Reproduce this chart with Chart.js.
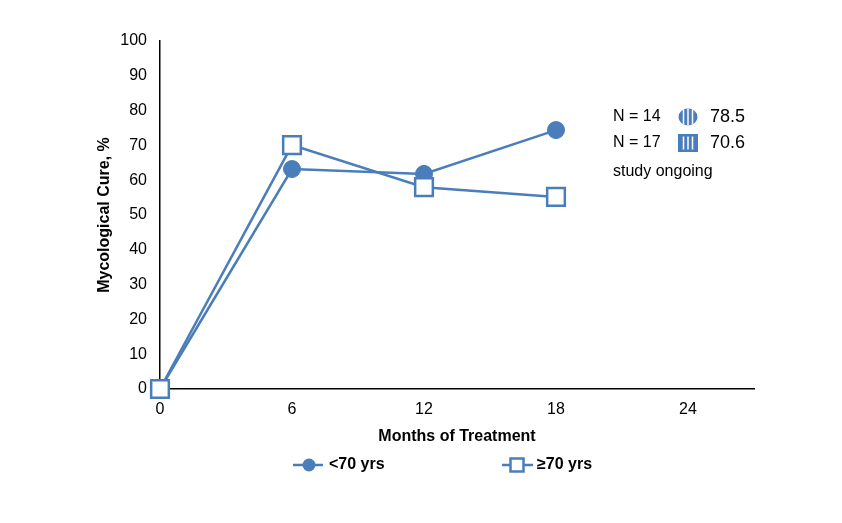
<!DOCTYPE html>
<html>
<head>
<meta charset="utf-8">
<script src="https://cdn.jsdelivr.net/npm/chart.js@4"></script>
<style>
  html, body { margin: 0; padding: 0; background: #fff; }
  #wrap { width: 842px; height: 523px; }
</style>
</head>
<body>
<div id="wrap"><canvas id="cureChart" width="842" height="523"></canvas></div>
<script>
const months = [0, 6, 12, 18];
const under70 = [0, 63.2, 61.8, 74.4];
const over70 = [0, 70.1, 58.0, 55.2];
const xTicks = [0, 6, 12, 18, 24];
const seriesNames = ['<70 yrs', '\u226570 yrs'];
const noteLabels = ['N = 14', 'N = 17'];
const noteValues = ['78.5', '70.6'];
const noteFooter = 'study ongoing';

const blue = '#4a7ebb';
const font = '"Liberation Sans", Arial, sans-serif';

function stripes(ctx, cx, cy, h) {
    ctx.strokeStyle = '#fff';
    ctx.lineWidth = 1.5;
    [-4.5, 0, 4.5].forEach(dx => {
        ctx.beginPath();
        ctx.moveTo(cx + dx, cy - h);
        ctx.lineTo(cx + dx, cy + h);
        ctx.stroke();
    });
}

const extras = {
    id: 'extras',
    afterDraw(chart) {
        const ctx = chart.ctx;
        ctx.save();
        // side notes
        ctx.textBaseline = 'middle';
        ctx.textAlign = 'left';
        const rows = [117, 143];
        rows.forEach((y, i) => {
            ctx.font = '16px ' + font;
            ctx.fillStyle = '#000';
            ctx.fillText(noteLabels[i], 613, y);
            ctx.font = '18px ' + font;
            ctx.fillText(noteValues[i], 710, y);
            ctx.fillStyle = blue;
            if (i === 0) {
                ctx.save();
                ctx.beginPath();
                ctx.ellipse(688, y, 9.5, 8.5, 0, 0, Math.PI * 2);
                ctx.fill();
                ctx.clip();
                stripes(ctx, 688, y, 9);
                ctx.restore();
            } else {
                ctx.fillRect(678, y - 9, 20, 18);
                stripes(ctx, 688, y, 6.5);
            }
        });
        ctx.font = '16px ' + font;
        ctx.fillStyle = '#000';
        ctx.fillText(noteFooter, 613, 172);

        // legend
        const ly = 465;
        ctx.strokeStyle = blue;
        ctx.lineWidth = 2.5;
        ctx.beginPath();
        ctx.moveTo(293, ly); ctx.lineTo(323, ly);
        ctx.moveTo(502, ly); ctx.lineTo(533, ly);
        ctx.stroke();
        ctx.fillStyle = blue;
        ctx.beginPath();
        ctx.arc(309, ly, 6.5, 0, Math.PI * 2);
        ctx.fill();
        ctx.fillStyle = '#fff';
        ctx.fillRect(510.5, ly - 6.5, 13, 13);
        ctx.lineWidth = 2.5;
        ctx.strokeRect(510.5, ly - 6.5, 13, 13);
        ctx.fillStyle = '#000';
        ctx.font = 'bold 16px ' + font;
        ctx.fillText(seriesNames[0], 329, ly);
        ctx.fillText(seriesNames[1], 537, ly);
        ctx.restore();
    }
};

new Chart(document.getElementById('cureChart'), {
    type: 'line',
    data: {
        datasets: [
            {
                label: seriesNames[0],
                data: months.map((m, i) => ({x: m, y: under70[i]})),
                borderColor: blue,
                backgroundColor: blue,
                borderWidth: 2.5,
                pointStyle: 'circle',
                pointRadius: 8.5,
                pointBorderWidth: 1,
                order: 1,
                clip: false
            },
            {
                label: seriesNames[1],
                data: months.map((m, i) => ({x: m, y: over70[i]})),
                borderColor: blue,
                backgroundColor: '#fff',
                borderWidth: 2.5,
                pointStyle: 'rect',
                pointRadius: 12.5,
                pointBorderWidth: 2.5,
                order: 0,
                clip: false
            }
        ]
    },
    options: {
        responsive: false,
        animation: false,
        events: [],
        layout: { padding: { left: 95, right: 88, top: 41, bottom: 77 } },
        plugins: { legend: { display: false }, tooltip: { enabled: false } },
        scales: {
            x: {
                type: 'linear',
                min: 0,
                max: 27,
                afterBuildTicks: s => { s.ticks = xTicks.map(v => ({value: v})); },
                afterFit: s => { s.height = 57; },
                grid: { display: false, drawTicks: false },
                border: { color: '#000', width: 1.5 },
                ticks: { color: '#000', font: { family: font, size: 16 }, padding: 11 },
                title: {
                    display: true, text: 'Months of Treatment', color: '#000',
                    font: { family: font, size: 16, weight: 'bold' }, padding: 0
                }
            },
            y: {
                min: 0,
                max: 100,
                afterFit: s => { s.width = 65; },
                grid: { display: false, drawTicks: false },
                border: { color: '#000', width: 1.5 },
                ticks: { stepSize: 10, color: '#000', font: { family: font, size: 16 }, padding: 13 },
                title: {
                    display: true, text: 'Mycological Cure, %', color: '#000',
                    font: { family: font, size: 16, weight: 'bold' }, padding: 0
                }
            }
        }
    },
    plugins: [extras]
});
</script>
</body>
</html>
